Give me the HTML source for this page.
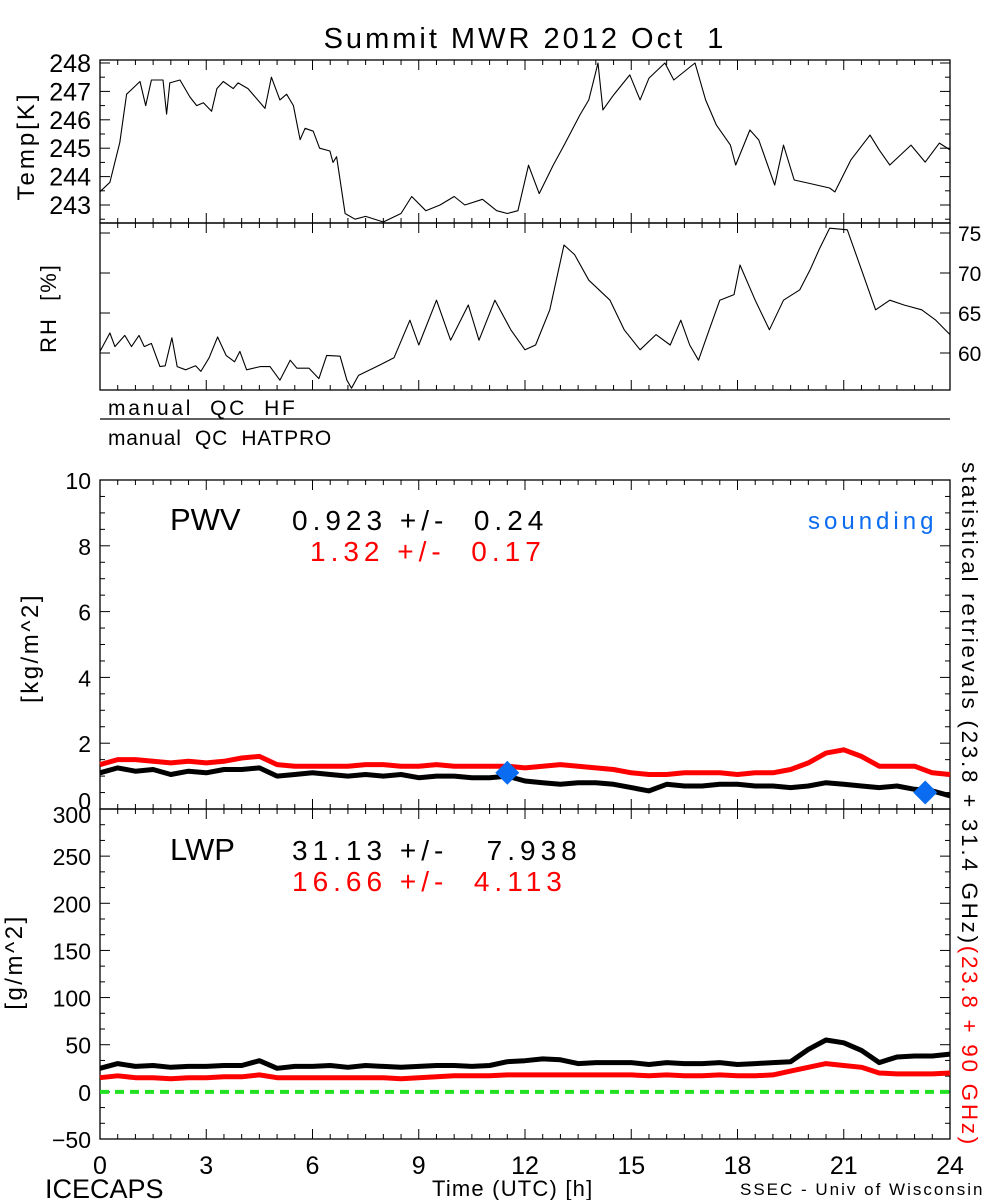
<!DOCTYPE html>
<html><head><meta charset="utf-8"><style>
html,body{margin:0;padding:0;background:#fff;}
svg{display:block;font-family:"Liberation Sans",sans-serif;}
</style></head><body>
<svg id="chart" width="1000" height="1200" viewBox="0 0 1000 1200" xmlns="http://www.w3.org/2000/svg">
<rect width="1000" height="1200" fill="#fff"/>
<text x="525" y="48" font-size="29" letter-spacing="3" text-anchor="middle">Summit MWR 2012 Oct&#160;&#160;1</text>
<g id="axes"></g>
<g id="marks"></g>
<text transform="translate(34,146) rotate(-90)" font-size="24" letter-spacing="3" text-anchor="middle">Temp[K]</text>
<text transform="translate(56,308) rotate(-90)" font-size="22" letter-spacing="2" text-anchor="middle">RH&#160;&#160;[%]</text>
<text x="108" y="415" font-size="21" letter-spacing="2.7">manual&#160;&#160;QC&#160;&#160;HF</text>
<line x1="100" y1="419" x2="950" y2="419" stroke="#000" stroke-width="1.2"/>
<text x="108" y="445" font-size="21" letter-spacing="0.8">manual&#160;&#160;QC&#160;&#160;HATPRO</text>
<text transform="translate(38,648) rotate(-90)" font-size="24" letter-spacing="2.5" text-anchor="middle">[kg/m^2]</text>
<text transform="translate(22,962) rotate(-90)" font-size="24" letter-spacing="2.5" text-anchor="middle">[g/m^2]</text>
<text x="170" y="530" font-size="31">PWV</text>
<text x="292" y="530" font-size="28" letter-spacing="5">0.923 +/-&#160;&#160;0.24</text>
<text x="310" y="561" font-size="28" letter-spacing="5" fill="#f00">1.32 +/-&#160;&#160;0.17</text>
<text x="808" y="529" font-size="24" letter-spacing="4" fill="#0a6cf0">sounding</text>
<text x="170" y="860" font-size="31">LWP</text>
<text x="292" y="860" font-size="28" letter-spacing="5">31.13 +/-&#160;&#160;&#160;7.938</text>
<text x="292" y="891" font-size="28" letter-spacing="5" fill="#f00">16.66 +/-&#160;&#160;4.113</text>
<text transform="translate(962,462) rotate(90)" font-size="22.5" letter-spacing="2.7"><tspan>statistical retrievals (23.8 + 31.4 GHz)</tspan><tspan fill="#f00">(23.8 + 90 GHz)</tspan></text>
<text x="432" y="1196" font-size="22" letter-spacing="1.2">Time (UTC) [h]</text>
<text x="45" y="1198" font-size="27">ICECAPS</text>
<text x="740" y="1195" font-size="17" letter-spacing="2">SSEC - Univ of Wisconsin</text>
</svg>
<script>
// ---- data ----
const tempHours = [0,0.28,0.56,0.75,1.13,1.29,1.45,1.78,1.88,1.97,2.26,2.54,2.73,2.92,3.15,3.3,3.48,3.76,3.9,4.18,4.66,4.84,5.08,5.27,5.46,5.65,5.79,6.02,6.2,6.49,6.58,6.68,6.92,7.2,7.5,8.0,8.5,8.8,9.2,9.6,10.0,10.3,10.8,11.2,11.5,11.8,12.1,12.4,12.8,13.1,13.55,13.8,14.06,14.2,14.5,14.96,15.25,15.5,15.95,16.2,16.8,17.1,17.4,17.8,17.95,18.35,18.6,19.05,19.3,19.6,20.0,20.6,20.75,21.2,21.74,22.0,22.3,22.9,23.3,23.7,24];
const tempValues = [243.47,243.8,245.2,246.9,247.35,246.5,247.4,247.4,246.2,247.3,247.4,246.8,246.5,246.6,246.3,247.1,247.35,247.1,247.3,247.1,246.4,247.5,246.7,246.9,246.5,245.3,245.7,245.6,245.0,244.9,244.5,244.7,242.7,242.5,242.6,242.4,242.7,243.3,242.8,243.0,243.3,243.0,243.2,242.8,242.7,242.8,244.4,243.4,244.41,245.1,246.17,246.7,248.0,246.35,246.87,247.58,246.7,247.47,248.0,247.4,248.0,246.7,245.82,245.11,244.41,245.64,245.29,243.7,245.11,243.88,243.77,243.6,243.46,244.58,245.46,244.94,244.41,245.11,244.51,245.18,244.94];
const rhHours = [0,0.28,0.42,0.7,0.89,1.1,1.25,1.45,1.69,1.84,2.03,2.18,2.42,2.7,2.85,3.08,3.32,3.56,3.8,3.95,4.14,4.52,4.8,5.08,5.37,5.56,5.9,6.18,6.4,6.78,6.97,7.1,7.3,7.9,8.3,8.75,9.0,9.5,9.9,10.4,10.7,11.15,11.6,12.0,12.3,12.7,13.1,13.4,13.8,14.4,14.8,15.25,15.7,16.1,16.4,16.65,16.9,17.2,17.5,17.9,18.07,18.5,18.9,19.3,19.76,20.05,20.3,20.6,21.1,21.5,21.9,22.3,22.7,23.2,23.6,24];
const rhValues = [60.2,62.5,60.8,62.2,60.8,62.2,60.8,61.2,58.3,58.4,61.9,58.3,57.9,58.4,57.7,59.4,62.0,59.7,58.9,60.2,57.9,58.3,58.3,56.6,59.1,58.1,58.1,56.8,59.7,59.6,56.6,55.6,57.2,58.5,59.4,64.1,61.0,66.6,61.6,66.0,61.6,66.6,62.9,60.4,61.0,65.4,73.5,72.3,69.1,66.6,62.9,60.4,62.3,61.0,64.1,61.0,59.1,62.9,66.6,67.3,71.0,66.6,62.9,66.6,67.9,70.4,72.9,75.6,75.4,70.4,65.4,66.6,66.0,65.4,64.1,62.3];
const pwvHours = [0,0.5,1,1.5,2,2.5,3,3.5,4,4.5,5,5.5,6,6.5,7,7.5,8,8.5,9,9.5,10,10.5,11,11.5,12,12.5,13,13.5,14,14.5,15,15.5,16,16.5,17,17.5,18,18.5,19,19.5,20,20.5,21,21.5,22,22.5,23,23.5,24];
const pwvBlack = [1.1,1.25,1.15,1.2,1.05,1.15,1.1,1.2,1.2,1.25,1.0,1.05,1.1,1.05,1.0,1.05,1.0,1.05,0.95,1.0,1.0,0.95,0.95,1.0,0.85,0.8,0.75,0.8,0.8,0.75,0.65,0.55,0.75,0.7,0.7,0.75,0.75,0.7,0.7,0.65,0.7,0.8,0.75,0.7,0.65,0.7,0.6,0.55,0.4];
const pwvRed = [1.35,1.5,1.5,1.45,1.4,1.45,1.4,1.45,1.55,1.6,1.35,1.3,1.3,1.3,1.3,1.35,1.35,1.3,1.3,1.35,1.3,1.3,1.3,1.3,1.25,1.3,1.35,1.3,1.25,1.2,1.1,1.05,1.05,1.1,1.1,1.1,1.05,1.1,1.1,1.2,1.4,1.7,1.8,1.6,1.3,1.3,1.3,1.1,1.05];
const soundHours = [11.5,23.3];
const soundValues = [1.1,0.5];
const lwpHours = pwvHours;
const lwpBlack = [25,30,27,28,26,27,27,28,28,33,25,27,27,28,26,28,27,26,27,28,28,27,28,32,33,35,34,30,31,31,31,29,31,30,30,31,29,30,31,32,45,55,52,44,31,37,38,38,40];
const lwpRed = [15,17,15,15,14,15,15,16,16,18,15,15,15,15,15,15,15,14,15,16,17,17,17,18,18,18,18,18,18,18,18,17,18,17,17,18,17,17,18,22,26,30,28,26,20,19,19,19,20];
const xTickLabels = ["0","3","6","9","12","15","18","21","24"];
const tempTickLabels = ["243","244","245","246","247","248"];
const rhTickLabels = ["60","65","70","75"];
const pwvTickLabels = ["0","2","4","6","8","10"];
const lwpTickLabels = ["-50","0","50","100","150","200","250","300"];

// ---- scales ----
const X0=100, X1=950;
const x = h => X0 + h/24*(X1-X0);
const yT = v => 63 + (248-v)*28.4;
const yRH = v => 353 - (v-60)*8;
const yP = v => 809 - v*32.9;
const yL = v => 809 + (300-v)*330/350;
const NS='http://www.w3.org/2000/svg';
const axes=document.getElementById('axes'), marks=document.getElementById('marks');
function mk(tag, attrs, parent){const e=document.createElementNS(NS,tag);for(const k in attrs)e.setAttribute(k,attrs[k]);parent.appendChild(e);return e;}

const panels=[
 {name:'temp',top:60,bot:223},
 {name:'rh',top:223,bot:390},
 {name:'pwv',top:480,bot:809},
 {name:'lwp',top:809,bot:1139}
];
panels.forEach(p=>{
  const r=mk('rect',{x:X0,y:p.top,width:X1-X0,height:p.bot-p.top,fill:'none',stroke:'#000','stroke-width':1.3},axes);
  
  
  for(let h=0;h<=24;h+=0.5){
    const len = (h%3===0)?10:5;
    const xx=x(h);
    mk('line',{x1:xx,y1:p.top,x2:xx,y2:p.top+len,stroke:'#000','stroke-width':1},axes);
    mk('line',{x1:xx,y1:p.bot,x2:xx,y2:p.bot-len,stroke:'#000','stroke-width':1},axes);
  }
});
function yTicks(scale,from,to,minorStep,majorStep,top,bot){
  for(let v=from; v<=to+1e-9; v+=minorStep){
    const yy=scale(v); if(yy<top-0.5||yy>bot+0.5) continue;
    const major=Math.abs(v/majorStep-Math.round(v/majorStep))<1e-6;
    const len=major?10:5;
    mk('line',{x1:X0,y1:yy,x2:X0+len,y2:yy,stroke:'#000','stroke-width':1},axes);
    mk('line',{x1:X1,y1:yy,x2:X1-len,y2:yy,stroke:'#000','stroke-width':1},axes);
  }
}
yTicks(yT,242.5,248,0.5,1,60,223);
yTicks(yRH,55,76,5,5,223,390);
yTicks(yP,0,10,0.5,2,480,809);
yTicks(yL,-50,300,50/3,50,809,1139);

function label(txt,xx,yy,size,anchor,name,fill){
  const t=mk('text',{x:xx,y:yy,'font-size':size,'text-anchor':anchor,fill:fill||'#000'},axes);
  t.textContent=txt;
  
  
}
xTickLabels.forEach(s=>label(s,x(+s),1174,25,'middle','x-tick-label'));
tempTickLabels.forEach(s=>label(s,91,yT(+s)+9,25,'end','temp-tick-label'));
rhTickLabels.forEach(s=>label(s,958,yRH(+s)+8,21,'start','rh-tick-label'));
pwvTickLabels.forEach(s=>label(s,91,yP(+s)+(s==='0'?0:9),23,'end','pwv-tick-label'));
lwpTickLabels.forEach(s=>label(s.replace('-','\u2212'),91,yL(+s)+(s==='300'?14:9),23,'end','lwp-tick-label'));

function line(hs,vs,ys,stroke,w,name,dash){
  const d=hs.map((h,i)=>(i?'L':'M')+x(h).toFixed(1)+','+ys(vs[i]).toFixed(1)).join('');
  const p=mk('path',{d:d,fill:'none',stroke:stroke,'stroke-width':w,'stroke-linejoin':'round'},marks);
  if(dash)p.setAttribute('stroke-dasharray',dash);
  
  
}
line(tempHours,tempValues,yT,'#000',1.1,'temp-line');
line(rhHours,rhValues,yRH,'#000',1.1,'rh-line');
line(pwvHours,pwvRed,yP,'#f00',5,'pwv-red-line');
line(pwvHours,pwvBlack,yP,'#000',5,'pwv-black-line');
line(lwpHours,lwpBlack,yL,'#000',5,'lwp-black-line');
line(lwpHours,lwpRed,yL,'#f00',5,'lwp-red-line');
const z=mk('line',{x1:X0,y1:yL(0),x2:X1,y2:yL(0),stroke:'#22e022','stroke-width':4,'stroke-dasharray':'9,6'},marks);


soundHours.forEach((h,i)=>{
  const cx=x(h), cy=yP(soundValues[i]), r=12;
  const d=mk('polygon',{points:`${cx},${cy-r} ${cx+r},${cy} ${cx},${cy+r} ${cx-r},${cy}`,fill:'#0a6cf0'},marks);
  
  
});
</script>
</body></html>
